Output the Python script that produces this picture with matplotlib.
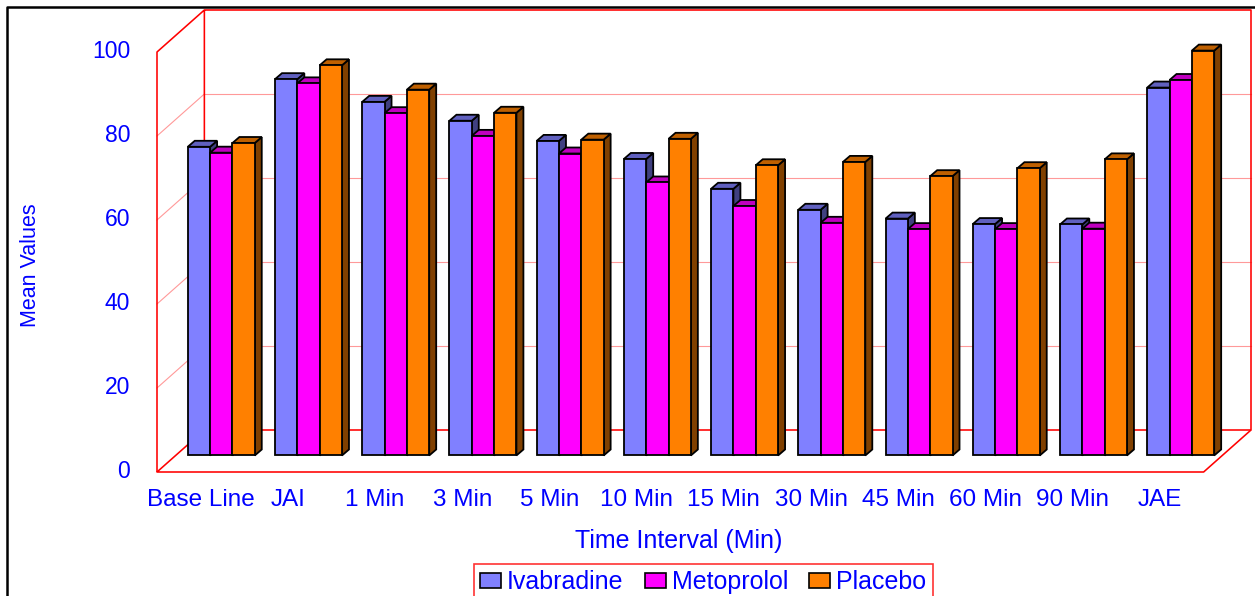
import matplotlib
matplotlib.use("Agg")
import matplotlib.pyplot as plt
from matplotlib.patches import Patch

plt.rcParams["font.family"] = ["Liberation Sans", "DejaVu Sans"]

categories = ["Base Line", "JAI", "1 Min", "3 Min", "5 Min", "10 Min", "15 Min",
              "30 Min", "45 Min", "60 Min", "90 Min", "JAE"]
series_names = ["Ivabradine", "Metoprolol", "Placebo"]
ivabradine = [73.5, 89.6, 84.2, 79.7, 74.9, 70.6, 63.5, 58.5, 56.4, 55.1, 55.0, 87.6]
metoprolol = [72.1, 88.6, 81.5, 76.1, 71.9, 65.0, 59.4, 55.4, 53.9, 53.9, 54.0, 89.4]
placebo = [74.4, 92.9, 87.1, 81.6, 75.2, 75.4, 69.1, 69.9, 66.5, 68.4, 70.5, 96.4]
yticks = [0, 20, 40, 60, 80, 100]

front_cols = ["#8080FF", "#FF00FF", "#FF8000"]
top_cols = ["#6060BF", "#BF00BF", "#BF6000"]
side_cols = ["#404080", "#800080", "#804000"]
blue = "#0000FF"
red = "#FF0000"
pale = "#FF9999"

W, H = 1255, 596
# pixel mapping: x_px = 200.61 + 87.22 * x, y_px = 472 - 4.2 * v
sx, ox = 87.22, 200.61
sy, oy = 4.2, 472.0

fig = plt.figure(figsize=(W / 100, H / 100), dpi=100)
ax = fig.add_axes([0, 0, 1, 1])
ax.set_xlim(-ox / sx, (W - ox) / sx)
ax.set_ylim((oy - H) / sy, oy / sy)
ax.axis("off")

n = len(categories)
x0, x1 = -0.5, n - 0.5
ddx, ddy = 0.543, 10.0  # depth of the floor

# pale gridlines on back and left walls
for v in yticks[1:-1]:
    ax.plot([x0 + ddx, x1 + ddx], [v + ddy, v + ddy], color=pale, lw=0.8, zorder=1)
    ax.plot([x0, x0 + ddx], [v, v + ddy], color=pale, lw=0.8, zorder=1)

# red frame
frame = dict(color=red, lw=1.15, zorder=1.5, solid_capstyle="butt")
ax.plot([x0, x0, x0 + ddx, x1 + ddx, x1 + ddx, x0 + ddx, x0 + ddx],
        [0, 100, 100 + ddy, 100 + ddy, ddy, ddy, 100 + ddy], **frame)
ax.plot([x0 + ddx, x0, x1, x1 + ddx], [ddy, 0, 0, ddy], **frame)

# 3d bars
values = [ivabradine, metoprolol, placebo]
bw = 0.256
bdx, bdy = 0.080, 1.43
v0 = 3.93
k = 0
for i in range(n):
    for j in range(3):
        val = values[j][i]
        z = 3 + k * 0.01
        k += 1
        xl = i - 0.147 + j * bw
        top = v0 + val
        ax.fill([xl + bw, xl + bw + bdx, xl + bw + bdx, xl + bw],
                [v0, v0 + bdy, top + bdy, top],
                facecolor=side_cols[j], edgecolor="black", lw=1.3, zorder=z)
        ax.fill([xl, xl + bw, xl + bw + bdx, xl + bdx],
                [top, top, top + bdy, top + bdy],
                facecolor=top_cols[j], edgecolor="black", lw=1.3, zorder=z)
        ax.bar(xl, val, width=bw, bottom=v0, align="edge", color=front_cols[j],
               edgecolor="black", lw=1.3, zorder=z + 0.004)

# tick labels
for v in yticks:
    ax.text((130 - ox) / sx, v, str(v), ha="right", va="center",
            color=blue, fontsize=16.5)
for i, c in enumerate(categories):
    ax.text(i, (oy - 500) / sy, c, ha="center", va="center", color=blue, fontsize=17.5)

fig.text(679 / W, 1 - 541 / H, "Time Interval (Min)", ha="center", va="center",
         color=blue, fontsize=18)
fig.text(30 / W, 1 - 265 / H, "Mean Values", ha="center", va="center",
         rotation=90, color=blue, fontsize=15.5)

# chart border
ax.plot([7 / W, 7 / W, 1.0], [0, 1 - 6.5 / H, 1 - 6.5 / H], transform=ax.transAxes,
        color="black", lw=1.8, zorder=10, clip_on=False)

handles = [Patch(facecolor=front_cols[j], edgecolor="black", lw=1.2) for j in range(3)]
leg = fig.legend(handles, series_names, loc="upper left",
                 bbox_to_anchor=(474 / W, 1 - 564 / H), ncol=3, fontsize=18,
                 labelcolor=blue, frameon=True, fancybox=False, shadow=False,
                 handlelength=0.84, handleheight=0.56, handletextpad=0.24,
                 columnspacing=0.84, borderpad=0.25, borderaxespad=0)
leg.get_frame().set_edgecolor(red)
leg.get_frame().set_linewidth(1.2)

fig.savefig("out.png", dpi=100)
